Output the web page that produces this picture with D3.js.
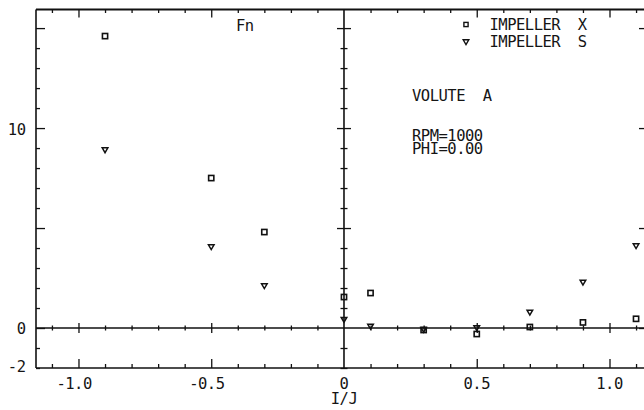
<!DOCTYPE html>
<html>
<head>
<meta charset="utf-8">
<script src="https://cdn.jsdelivr.net/npm/d3@7"></script>
<style>
  html, body { margin: 0; padding: 0; background: #fff; }
  svg { display: block; }
  text { font-family: "DejaVu Sans Mono", monospace; font-size: 15.5px; fill: #151515; letter-spacing: -0.5px; white-space: pre; }
</style>
</head>
<body>
<svg id="chart" width="644" height="410"></svg>
<script>
// ---- data ----
const xValues   = [-0.9, -0.5, -0.3, 0, 0.1, 0.3, 0.5, 0.7, 0.9, 1.1];
const impellerX = [14.6, 7.5, 4.8, 1.55, 1.75, -0.1, -0.3, 0.05, 0.28, 0.46];
const impellerS = [8.9, 4.05, 2.1, 0.42, 0.08, -0.08, 0.0, 0.78, 2.28, 4.1];
const xTickLabels = ["-1.0", "-0.5", "0", "0.5", "1.0"];
const xTickLabelValues = [-1.0, -0.5, 0, 0.5, 1.0];
const yTickLabels = ["10", "0", "-2"];
const yTickLabelValues = [10, 0, -2];
const legendLabels = ["IMPELLER  X", "IMPELLER  S"];
const noteLines = ["VOLUTE  A", "", "RPM=1000", "PHI=0.00"];
const yTitle = "Fn";
const xTitle = "I/J";

// ---- layout ----
const svg = d3.select("#chart");
const x = d3.scaleLinear().domain([-1.16, 1.145]).range([36, 648]);
const y = d3.scaleLinear().domain([-2, 15.93]).range([368, 9.5]);
const ink = "#111";

const xMinor = d3.range(-11, 12).map(i => i / 10).filter(v => Math.abs(v) > 1e-9);
const xMajor = [-1.0, -0.5, 0.5, 1.0];
const xMinorOnly = xMinor.filter(v => !xMajor.some(m => Math.abs(m - v) < 1e-9));
const yMinor = d3.range(-2, 16).filter(v => v % 5 !== 0);
const yMajor = [0, 5, 10, 15];

function drawAxis(gen, vals, size, tx, ty, cross) {
  const g = svg.append("g").attr("transform", `translate(${tx},${ty})`)
    .call(gen.tickValues(vals).tickSize(size).tickSizeOuter(0).tickFormat(""));
  g.select(".domain").remove();
  g.selectAll("text").remove();
  g.selectAll("line").attr("stroke", ink).attr("stroke-width", 1.3);
  if (cross) {
    g.selectAll("line").each(function () {
      const l = d3.select(this);
      ["x2", "y2"].forEach(a => {
        const v = +l.attr(a);
        if (v) l.attr(a === "x2" ? "x1" : "y1", -v);
      });
    });
  }
  return g;
}

// frame (left, top, bottom; right edge is off the picture)
svg.append("line").attr("x1", x.range()[0]).attr("x2", 660).attr("y1", y(15.93)).attr("y2", y(15.93))
  .attr("stroke", ink).attr("stroke-width", 1.8);
svg.append("line").attr("x1", x.range()[0]).attr("x2", 660).attr("y1", y(-2)).attr("y2", y(-2))
  .attr("stroke", ink).attr("stroke-width", 1.7);
svg.append("line").attr("x1", x.range()[0]).attr("x2", x.range()[0]).attr("y1", y(15.93)).attr("y2", y(-2))
  .attr("stroke", ink).attr("stroke-width", 1.6);
svg.append("line").attr("x1", x.range()[1]).attr("x2", x.range()[1]).attr("y1", y(15.93)).attr("y2", y(-2))
  .attr("stroke", ink).attr("stroke-width", 1.6);

// zero lines
svg.append("line").attr("x1", x.range()[0]).attr("x2", 660).attr("y1", y(0)).attr("y2", y(0))
  .attr("stroke", ink).attr("stroke-width", 1.7);
svg.append("line").attr("x1", x(0)).attr("x2", x(0)).attr("y1", y(15.93)).attr("y2", y(-2))
  .attr("stroke", ink).attr("stroke-width", 1.6);

// top axis ticks (pointing down)
drawAxis(d3.axisBottom(x), xMinorOnly, 3.5, 0, y(15.93));
drawAxis(d3.axisBottom(x), xMajor, 8, 0, y(15.93));
// bottom axis ticks (pointing up)
drawAxis(d3.axisTop(x), xMinorOnly, 4, 0, y(-2));
drawAxis(d3.axisTop(x), xMajor, 9, 0, y(-2));
// left axis ticks (pointing right)
drawAxis(d3.axisRight(y), yMinor, 4, x.range()[0], 0);
drawAxis(d3.axisRight(y), yMajor, 9, x.range()[0], 0);
// right axis ticks (pointing left)
drawAxis(d3.axisLeft(y), yMinor, 4, x.range()[1], 0);
drawAxis(d3.axisLeft(y), yMajor, 9, x.range()[1], 0);
// crossing ticks on zero lines
drawAxis(d3.axisBottom(x), xMinorOnly, 2.5, 0, y(0), true);
drawAxis(d3.axisBottom(x), xMajor, 5, 0, y(0), true);
drawAxis(d3.axisRight(y), yMinor.filter(v => v !== 0), 3.5, x(0), 0, true);
drawAxis(d3.axisRight(y), yMajor.filter(v => v !== 0), 7, x(0), 0, true);

// tick labels
const cell = 15.5 * 0.602 - 0.5;
svg.append("g").selectAll("text").data(xTickLabels).join("text")
  .attr("x", (d, i) => x(xTickLabelValues[i]) + d.replace("-", "").length * cell / 2)
  .attr("y", 388.5)
  .attr("text-anchor", "end")
  .text(d => d);
const yLabelShift = [6.5, 5.5, 4];
svg.append("g").selectAll("text").data(yTickLabels).join("text")
  .attr("x", 25.5)
  .attr("y", (d, i) => y(yTickLabelValues[i]) + yLabelShift[i])
  .attr("text-anchor", "end")
  .text(d => d);

// titles
svg.append("text").attr("x", 236).attr("y", 31).text(yTitle);
svg.append("text").attr("x", x(0)).attr("y", 403.5).attr("text-anchor", "middle").text(xTitle);

// markers
const sq = 5.2;
const tri = (cx, cy) => `M${cx - 2.8},${cy - 2.2}L${cx + 2.8},${cy - 2.2}L${cx},${cy + 2.6}Z`;

svg.append("g").selectAll("rect").data(xValues).join("rect")
  .attr("x", (d, i) => x(d) - sq / 2)
  .attr("y", (d, i) => y(impellerX[i]) - sq / 2)
  .attr("width", sq).attr("height", sq)
  .attr("fill", "none").attr("stroke", ink).attr("stroke-width", 1.6);

svg.append("g").selectAll("path").data(xValues).join("path")
  .attr("d", (d, i) => tri(x(d), y(impellerS[i])))
  .attr("fill", "none").attr("stroke", ink).attr("stroke-width", 1.5);

// legend
svg.append("rect").attr("x", 466 - 2.1).attr("y", 24.5 - 2.1).attr("width", 4.2).attr("height", 4.2)
  .attr("fill", "none").attr("stroke", ink).attr("stroke-width", 1.4);
svg.append("path").attr("d", tri(466, 42)).attr("fill", "none").attr("stroke", ink).attr("stroke-width", 1.4);
svg.append("g").selectAll("text").data(legendLabels).join("text")
  .attr("x", 489.5).attr("y", (d, i) => 30 + i * 17)
  .text(d => d);

// notes
const noteY = [101, 0, 140.5, 154];
svg.append("g").selectAll("text").data(noteLines.filter(d => d)).join("text")
  .attr("x", 412)
  .attr("y", d => noteY[noteLines.indexOf(d)])
  .text(d => d);
</script>
</body>
</html>
